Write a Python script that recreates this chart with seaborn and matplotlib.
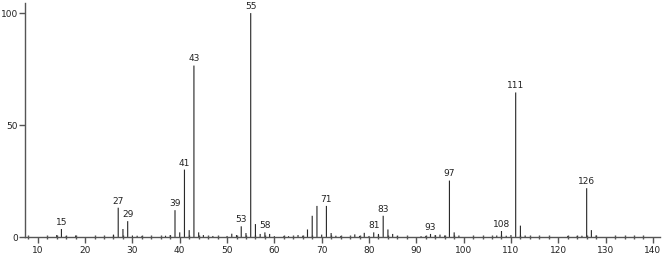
import matplotlib
matplotlib.use("Agg")
import matplotlib.pyplot as plt
import seaborn as sns
import pandas as pd
from matplotlib.ticker import MultipleLocator

mz = [14, 15, 16, 18, 26, 27, 28, 29, 30, 31, 32, 37, 38, 39, 40, 41, 42, 43, 44, 45,
      47, 50, 51, 52, 53, 54, 55, 56, 57, 58, 59, 60, 62, 63, 65, 66, 67, 68, 69, 70,
      71, 72, 73, 74, 77, 78, 79, 80, 81, 82, 83, 84, 85, 86, 91, 92, 93, 94, 95, 96,
      97, 98, 99, 107, 108, 109, 110, 111, 112, 113, 122, 124, 125, 126, 127, 128]
intensity = [1.0, 3.7, 0.5, 0.8, 1.2, 13.2, 3.7, 7.2, 0.8, 0.7, 0.5, 0.7, 1.0, 12.1, 2.2, 30.2, 3.2, 76.6, 2.2, 1.0,
             0.6, 0.6, 1.6, 1.0, 4.9, 1.9, 100.0, 5.9, 1.5, 2.2, 1.5, 0.5, 0.5, 0.5, 1.0, 0.7, 3.5, 9.6, 14.0, 1.2,
             14.0, 1.9, 0.7, 0.5, 1.3, 0.6, 2.0, 0.6, 2.2, 1.5, 9.6, 3.5, 1.5, 0.5, 0.5, 0.6, 1.5, 1.0, 1.2, 0.8,
             25.3, 2.2, 0.8, 0.8, 2.8, 0.7, 1.0, 64.6, 5.2, 0.8, 0.6, 0.6, 0.7, 21.9, 3.2, 0.8]
labeled_peaks = [15, 27, 29, 39, 41, 43, 53, 55, 58, 71, 81, 83, 93, 97, 108, 111, 126]
x_ticks = [10, 20, 30, 40, 50, 60, 70, 80, 90, 100, 110, 120, 130, 140]
y_ticks = [0, 50, 100]

df = pd.DataFrame({"mz": mz, "intensity": intensity})

sns.set_style("white")
plt.rcParams["font.family"] = ["DejaVu Sans"]

fig = plt.figure(figsize=(6.66, 2.54), dpi=100)
ax = fig.add_axes([25 / 666, (254 - 237.3) / 254, 635 / 666, 234.3 / 254])

sns.barplot(data=df, x="mz", y="intensity", native_scale=True, width=0.24,
            color="#2a2a2a", saturation=1, linewidth=0, ax=ax)
for patch in ax.patches:
    patch.set_snap(False)

lookup = dict(zip(mz, intensity))
for p in labeled_peaks:
    ax.annotate(str(p), (p, lookup[p]), xytext=(0, 1.5), textcoords="offset points",
                ha="center", va="bottom", fontsize=6.5, color="#222222")

ax.set_xlim(7.3, 141.5)
ax.set_ylim(0, 104.5)
ax.set_xticks(x_ticks)
ax.set_xticklabels([str(t) for t in x_ticks])
ax.xaxis.set_minor_locator(MultipleLocator(2))
ax.set_yticks(y_ticks)
ax.set_yticklabels([str(t) for t in y_ticks])
ax.set_xlabel("")
ax.set_ylabel("")

for s in ["top", "right"]:
    ax.spines[s].set_visible(False)
for s in ["left", "bottom"]:
    ax.spines[s].set_color("#555555")
    ax.spines[s].set_linewidth(1)

ax.tick_params(axis="x", which="major", bottom=True, direction="out", length=4, width=1,
               color="#555555", labelsize=6.5, pad=2, labelcolor="#222222")
ax.tick_params(axis="x", which="minor", bottom=True, direction="inout", length=3, width=1,
               color="#555555")
ax.tick_params(axis="y", which="major", left=True, direction="out", length=4, width=1,
               color="#555555", labelsize=6.5, pad=1, labelcolor="#222222")
ax.grid(False)

fig.savefig("out.png", dpi=100)
